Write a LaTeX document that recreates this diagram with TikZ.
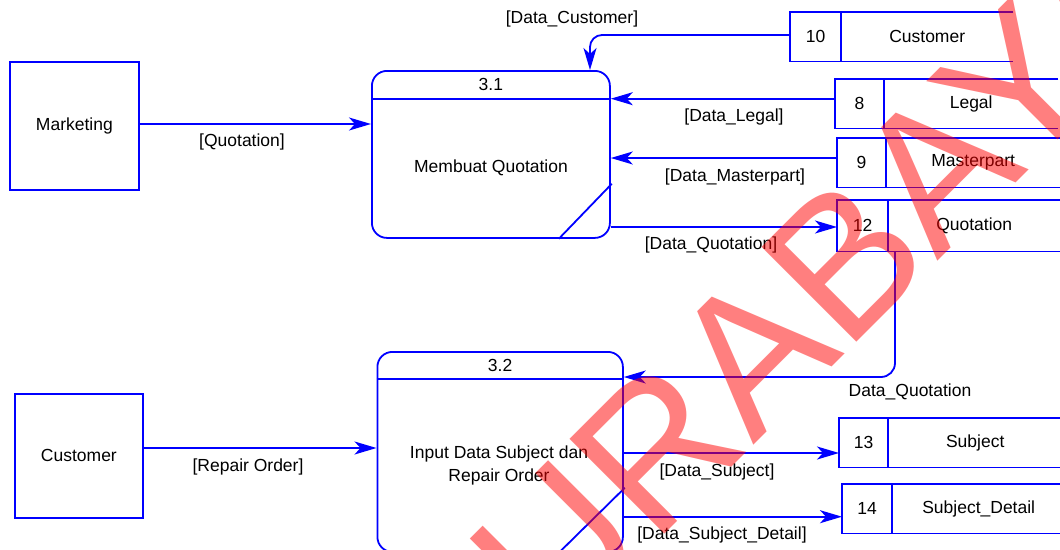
\documentclass[tikz,border=0pt]{standalone}
\usepackage{fontspec}
\setmainfont{Liberation Sans}
\usetikzlibrary{arrows.meta,calc}

\tikzset{
  dfd/.style={draw=blue, line width=1.8pt},
  flow/.style={draw=blue, line width=1.8pt, -{Stealth[length=22pt,width=13pt,inset=6pt]}},
  entity/.style={dfd, rectangle, anchor=north west, inner sep=0pt, font=\fontsize{17.5}{21}\selectfont},
  procbox/.style={dfd, rectangle, rounded corners=15pt, anchor=north west, inner sep=0pt},
  storebox/.style={rectangle, anchor=north west, inner sep=0pt, minimum width=223pt},
  lbl/.style={font=\fontsize{17.5}{23}\selectfont, inner sep=0pt, text=black, align=center},
  stamp/.style={font=\fontsize{195}{195}\selectfont, text=red, text opacity=0.5, inner sep=0pt, rotate=45},
}

% data store: name, x, top y, height, id-cell width, id, title
\newcommand\dstore[7]{%
  \node[storebox, minimum height=#4pt] (#1) at (#2,#3) {};
  \draw[dfd] (#1.north east) -- (#1.north west) -- (#1.south west) -- (#1.south east);
  \coordinate (#1d) at ($(#1.north west)+(#5,0)$);
  \draw[dfd] (#1d) -- (#1d |- #1.south);
  \node[lbl] at ($(#1.west)+(#5/2,0)$) {#6};
  \node[lbl] at ($(#1d |- #1.west)!0.5!(#1.east)$) {#7};
}

\begin{document}
\begin{tikzpicture}[x=1pt,y=1pt]
\useasboundingbox (0,0) rectangle (1060,-549);
\clip (0,0) rectangle (1060,-549);

% external entities
\node[entity, minimum width=129pt, minimum height=128pt] (mkt) at (9,-61) {Marketing};
\node[entity, minimum width=128pt, minimum height=124pt] (cust) at (14,-393) {Customer};

% process 3.1
\node[procbox, minimum width=238pt, minimum height=167pt] (p31) at (371,-70) {};
\coordinate (p31hl) at ($(p31.north west)+(0,-28.7)$);
\coordinate (p31h) at ($(p31.north east)+(0,-28.7)$);
\draw[dfd] (p31hl) -- (p31h);
\draw[dfd] ($(p31.south east)+(-52,0)$) -- ($(p31.south east)+(1,55)$);
\node[lbl] at ($(p31.north)+(0,-14)$) {3.1};
\node[lbl] at (491,-168) {Membuat Quotation};

% process 3.2
\node[procbox, minimum width=245.5pt, minimum height=200pt] (p32) at (376.5,-351) {};
\coordinate (p32hl) at ($(p32.north west)+(0,-28)$);
\coordinate (p32h) at ($(p32.north east)+(0,-28)$);
\draw[dfd] (p32hl) -- (p32h);
\draw[dfd] ($(p32.south east)+(-65,0)$) -- ($(p32.south east)+(1,65)$);
\node[lbl] at ($(p32.north)+(0,-14)$) {3.2};
\node[lbl] at (499,-465.5) {Input Data Subject dan\\Repair Order};

% data stores
\dstore{s10}{790}{-12}{49}{51}{10}{Customer}
\dstore{s8}{835}{-79}{49}{49}{8}{Legal}
\dstore{s9}{837}{-138}{49}{49}{9}{Masterpart}
\dstore{s12}{837}{-200}{51}{51}{12}{Quotation}
\dstore{s13}{839}{-418}{49}{49}{13}{Subject}
\dstore{s14}{842}{-484}{49}{50}{14}{Subject\_Detail}

% flow heights and bends
\coordinate (yq) at (0,-124);
\coordinate (ydc) at (0,-35);
\coordinate (xdc) at (590,0);
\coordinate (ymp) at (0,-158);
\coordinate (yqo) at (0,-227);
\coordinate (xdq) at (895,0);
\coordinate (ydq) at (0,-377);
\coordinate (yro) at (0,-448);
\coordinate (ysu) at (0,-453);
\coordinate (ysd) at (0,-516.7);

% data flows
\draw[flow] (mkt.east |- yq) -- (p31.west |- yq);
\draw[flow, rounded corners=12pt] (s10.west |- ydc) -| (xdc |- p31.north);
\draw[flow] (s8.west |- p31h) -- (p31h);
\draw[flow] (s9.west |- ymp) -- (p31.east |- ymp);
\draw[flow] (p31.east |- yqo) -- (s12.west |- yqo);
\draw[flow, rounded corners=14pt] (xdq |- s12.south) |- (p32.east |- ydq);
\draw[flow] (cust.east |- yro) -- (p32.west |- yro);
\draw[flow] (p32.east |- ysu) -- (s13.west |- ysu);
\draw[flow] (p32.east |- ysd) -- (s14.west |- ysd);

% flow labels
\node[lbl] (lq) at (242,-142) {[Quotation]};
\node[lbl] (ldc) at (572,-19) {[Data\_Customer]};
\node[lbl] (ldl) at (734,-117) {[Data\_Legal]};
\node[lbl] (ldm) at (735,-177) {[Data\_Masterpart]};
\node[lbl] (ldq) at (711,-245) {[Data\_Quotation]};
\node[lbl] (ldq2) at (910,-392) {Data\_Quotation};
\node[lbl] (lro) at (248,-467) {[Repair Order]};
\node[lbl] (lds) at (717,-472) {[Data\_Subject]};
\node[lbl] (ldsd) at (722,-535) {[Data\_Subject\_Detail]};

% stamp across the sheet
\node[stamp] (wm) at (780,-324) {SURABAYA};
\end{tikzpicture}
\end{document}
